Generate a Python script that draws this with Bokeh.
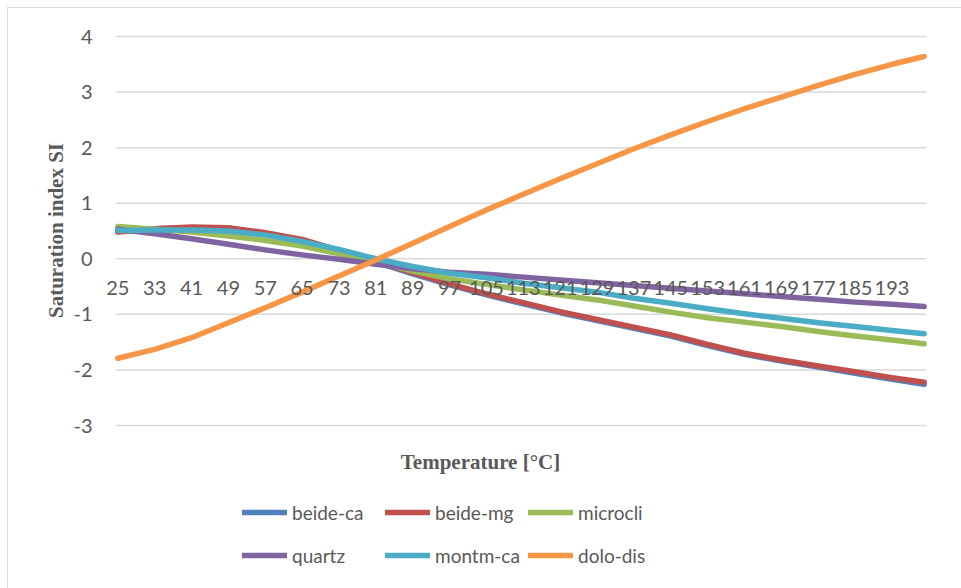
import math
from bokeh.plotting import figure
from bokeh.models import Range1d, FixedTicker, Label, Legend, LegendItem
from bokeh.embed import file_html
from bokeh.resources import INLINE

# ---- data ----
temps = [25, 33, 41, 49, 57, 65, 73, 81, 89, 97, 105, 113, 121, 129, 137,
         145, 153, 161, 169, 177, 185, 193, 200]
tick_temps = [25, 33, 41, 49, 57, 65, 73, 81, 89, 97, 105, 113, 121, 129,
              137, 145, 153, 161, 169, 177, 185, 193]
y_ticks = [-3, -2, -1, 0, 1, 2, 3, 4]

beide_ca = [0.49, 0.54, 0.56, 0.55, 0.46, 0.34, 0.14, -0.06, -0.27, -0.47, -0.65,
            -0.81, -0.97, -1.11, -1.25, -1.39, -1.56, -1.72, -1.84, -1.95, -2.06,
            -2.17, -2.26]
beide_mg = [0.48, 0.54, 0.57, 0.56, 0.47, 0.35, 0.15, -0.05, -0.25, -0.45, -0.63,
            -0.79, -0.95, -1.09, -1.23, -1.37, -1.54, -1.70, -1.82, -1.93, -2.03,
            -2.14, -2.22]
microcli = [0.58, 0.53, 0.48, 0.41, 0.33, 0.23, 0.09, -0.06, -0.22, -0.36, -0.46,
            -0.56, -0.65, -0.74, -0.85, -0.96, -1.06, -1.14, -1.22, -1.31, -1.39,
            -1.46, -1.53]
quartz = [0.53, 0.45, 0.36, 0.26, 0.16, 0.07, -0.01, -0.10, -0.18, -0.24, -0.28,
          -0.33, -0.38, -0.43, -0.48, -0.53, -0.58, -0.63, -0.68, -0.73, -0.78,
          -0.82, -0.86]
montm_ca = [0.51, 0.52, 0.52, 0.50, 0.43, 0.31, 0.17, 0.00, -0.14, -0.26, -0.34,
            -0.44, -0.52, -0.60, -0.71, -0.80, -0.90, -0.99, -1.07, -1.15, -1.22,
            -1.29, -1.35]
dolo_dis = [-1.79, -1.63, -1.42, -1.15, -0.88, -0.60, -0.31, -0.02, 0.28, 0.58, 0.88,
            1.16, 1.44, 1.71, 1.98, 2.23, 2.47, 2.70, 2.91, 3.12, 3.32, 3.50, 3.64]

series_names = ["beide-ca", "beide-mg", "microcli", "quartz", "montm-ca", "dolo-dis"]
series_values = [beide_ca, beide_mg, microcli, quartz, montm_ca, dolo_dis]
series_colors = ["#4F81BD", "#C0504D", "#9BBB59", "#8064A2", "#4BACC6", "#F79646"]

# ---- layout geometry (pixels) ----
W, H = 961, 588
plot_left, plot_right = 115, 926        # category band of the plot area
plot_top_val, plot_top_px = 4, 36        # y = 4 at 36 px
plot_bot_val, plot_bot_px = -3, 425      # y = -3 at 425 px

x_lo = min(temps) - 0.5
x_hi = max(temps) + 0.5
ppx = (plot_right - plot_left) / (x_hi - x_lo)
ppy = (plot_bot_px - plot_top_px) / (plot_top_val - plot_bot_val)

x_start = x_lo - plot_left / ppx
x_end = x_hi + (W - plot_right) / ppx
y_end = plot_top_val + plot_top_px / ppy
y_start = plot_bot_val - (H - plot_bot_px) / ppy

p = figure(width=W, height=H, output_backend="svg", toolbar_location=None,
           x_range=Range1d(x_start, x_end), y_range=Range1d(y_start, y_end),
           min_border=0, min_border_left=0, min_border_right=0,
           min_border_top=0, min_border_bottom=0)
p.background_fill_color = None
p.border_fill_color = None
p.outline_line_color = None
p.styles = {
    "background": ("linear-gradient(#D9D9D9,#D9D9D9) 7px 7px / 1px 100% no-repeat, "
                   "linear-gradient(#D9D9D9,#D9D9D9) 7px 7px / 100% 1px no-repeat, white"),
}

FONT = "Lato"
GRAY = "#595959"

# x axis crossing at y = 0
xa = p.xaxis[0]
xa.fixed_location = 0
xa.ticker = FixedTicker(ticks=tick_temps)
xa.axis_line_color = None
xa.major_tick_line_color = None
xa.minor_tick_line_color = None
xa.major_tick_out = 0
xa.major_tick_in = 0
xa.major_label_text_font = FONT
xa.major_label_text_font_size = "20px"
xa.major_label_text_color = GRAY
xa.major_label_standoff = 22

# y axis at left edge of the category band
ya = p.yaxis[0]
ya.fixed_location = x_lo
ya.ticker = FixedTicker(ticks=y_ticks)
ya.major_label_overrides = {t: str(t) for t in y_ticks}
ya.axis_line_color = None
ya.major_tick_line_color = None
ya.minor_tick_line_color = None
ya.major_tick_out = 0
ya.major_tick_in = 0
ya.major_label_text_font = FONT
ya.major_label_text_font_size = "20px"
ya.major_label_text_color = GRAY
ya.major_label_standoff = 23

p.xgrid.visible = False
p.ygrid.visible = False
# horizontal gridlines limited to the plot area
p.segment(x0=[x_lo] * len(y_ticks), x1=[x_hi] * len(y_ticks), y0=y_ticks, y1=y_ticks,
          line_color="#D9D9D9", line_width=1.5)

renderers = []
for name, vals, col in zip(series_names, series_values, series_colors):
    r = p.line(temps, vals, line_color=col, line_width=5.5, line_cap="round",
               line_join="round")
    renderers.append(r)

# legend: three columns of two rows
col_x = [242, 385, 528]
for c in range(3):
    idx = [c, c + 3]
    items = [LegendItem(label=series_names[i], renderers=[renderers[i]]) for i in idx]
    lg = Legend(items=items, location=(col_x[c], 21), orientation="vertical",
                label_text_font=FONT, label_text_font_size="19px",
                label_text_color=GRAY, glyph_width=45, glyph_height=24,
                label_height=24, label_standoff=5, spacing=19, padding=0, margin=0,
                border_line_alpha=0, background_fill_alpha=0)
    p.add_layout(lg)

p.add_layout(Label(x=55, y=H - 230, x_units="screen", y_units="screen",
                   text="Saturation index SI", angle=math.pi / 2,
                   text_align="center", text_baseline="middle",
                   text_font="Liberation Serif", text_font_style="bold",
                   text_font_size="21px", text_color=GRAY))
p.add_layout(Label(x=480, y=H - 461, x_units="screen", y_units="screen",
                   text="Temperature [°C]",
                   text_align="center", text_baseline="middle",
                   text_font="Liberation Serif", text_font_style="bold",
                   text_font_size="21px", text_color=GRAY))

open("out.html", "w").write(file_html(p, INLINE))
